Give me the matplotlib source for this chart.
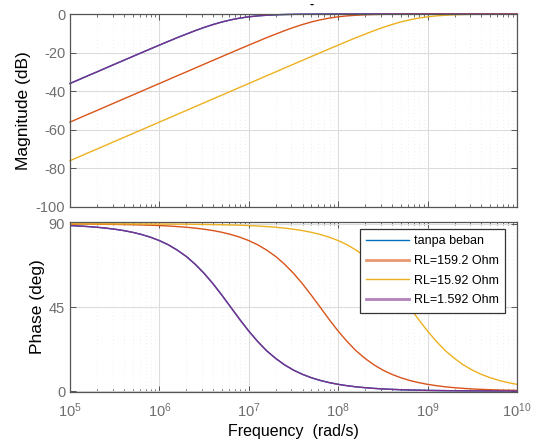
import matplotlib
matplotlib.use("Agg")
import matplotlib.pyplot as plt
from matplotlib.lines import Line2D
from matplotlib.ticker import LogLocator, NullFormatter, FixedLocator

plt.rcParams['font.family'] = ['Liberation Sans', 'DejaVu Sans']
plt.rcParams['axes.unicode_minus'] = False

# frequency points (rad/s), 10 per decade
freq = [1.00e5, 1.26e5, 1.58e5, 2.00e5, 2.51e5, 3.16e5, 3.98e5, 5.01e5, 6.31e5, 7.94e5,
        1.00e6, 1.26e6, 1.58e6, 2.00e6, 2.51e6, 3.16e6, 3.98e6, 5.01e6, 6.31e6, 7.94e6,
        1.00e7, 1.26e7, 1.58e7, 2.00e7, 2.51e7, 3.16e7, 3.98e7, 5.01e7, 6.31e7, 7.94e7,
        1.00e8, 1.26e8, 1.58e8, 2.00e8, 2.51e8, 3.16e8, 3.98e8, 5.01e8, 6.31e8, 7.94e8,
        1.00e9, 1.26e9, 1.58e9, 2.00e9, 2.51e9, 3.16e9, 3.98e9, 5.01e9, 6.31e9, 7.94e9,
        1.00e10]

labels = ['tanpa beban', 'RL=159.2 Ohm', 'RL=15.92 Ohm', 'RL=1.592 Ohm']
colors = ['#0072BD', '#D95319', '#EDB120', '#7E2F8E']

# magnitude (dB)
mag_tanpa = [-36.00, -34.00, -32.00, -30.00, -28.01, -26.01, -24.02, -22.03, -20.04, -18.07,
             -16.11, -14.17, -12.27, -10.41, -8.64, -6.97, -5.46, -4.12, -3.01, -2.12,
             -1.46, -0.97, -0.64, -0.41, -0.27, -0.17, -0.11, -0.07, -0.04, -0.03,
             -0.02, -0.01, -0.01, 0.00, 0.00, 0.00, 0.00, 0.00, 0.00, 0.00,
             0.00, 0.00, 0.00, 0.00, 0.00, 0.00, 0.00, 0.00, 0.00, 0.00, 0.00]
mag_159 = [-56.00, -54.00, -52.00, -50.00, -48.00, -46.00, -44.00, -42.00, -40.00, -38.00,
           -36.00, -34.00, -32.00, -30.00, -28.01, -26.01, -24.02, -22.03, -20.04, -18.07,
           -16.11, -14.17, -12.27, -10.41, -8.64, -6.97, -5.46, -4.12, -3.01, -2.12,
           -1.46, -0.97, -0.64, -0.41, -0.27, -0.17, -0.11, -0.07, -0.04, -0.03,
           -0.02, -0.01, -0.01, 0.00, 0.00, 0.00, 0.00, 0.00, 0.00, 0.00, 0.00]
mag_1592 = [-76.00, -74.00, -72.00, -70.00, -68.00, -66.00, -64.00, -62.00, -60.00, -58.00,
            -56.00, -54.00, -52.00, -50.00, -48.00, -46.00, -44.00, -42.00, -40.00, -38.00,
            -36.00, -34.00, -32.00, -30.00, -28.01, -26.01, -24.02, -22.03, -20.04, -18.07,
            -16.11, -14.17, -12.27, -10.41, -8.64, -6.97, -5.46, -4.12, -3.01, -2.12,
            -1.46, -0.97, -0.64, -0.41, -0.27, -0.17, -0.11, -0.07, -0.04, -0.03, -0.02]
mag_1p592 = list(mag_tanpa)  # overlaps tanpa beban

# phase (deg)
ph_tanpa = [89.09, 88.86, 88.56, 88.19, 87.72, 87.13, 86.39, 85.46, 84.29, 82.82,
            80.99, 78.72, 75.90, 72.45, 68.29, 63.38, 57.75, 51.54, 45.00, 38.46,
            32.25, 26.62, 21.71, 17.55, 14.10, 11.28, 9.01, 7.18, 5.71, 4.54,
            3.61, 2.87, 2.28, 1.81, 1.44, 1.14, 0.91, 0.72, 0.57, 0.46,
            0.36, 0.29, 0.23, 0.18, 0.14, 0.11, 0.09, 0.07, 0.06, 0.05, 0.04]
ph_159 = [89.91, 89.89, 89.86, 89.82, 89.77, 89.71, 89.64, 89.54, 89.43, 89.28,
          89.09, 88.86, 88.56, 88.19, 87.72, 87.13, 86.39, 85.46, 84.29, 82.82,
          80.99, 78.72, 75.90, 72.45, 68.29, 63.38, 57.75, 51.54, 45.00, 38.46,
          32.25, 26.62, 21.71, 17.55, 14.10, 11.28, 9.01, 7.18, 5.71, 4.54,
          3.61, 2.87, 2.28, 1.81, 1.44, 1.14, 0.91, 0.72, 0.57, 0.46, 0.36]
ph_1592 = [89.99, 89.99, 89.99, 89.98, 89.98, 89.97, 89.96, 89.95, 89.94, 89.93,
           89.91, 89.89, 89.86, 89.82, 89.77, 89.71, 89.64, 89.54, 89.43, 89.28,
           89.09, 88.86, 88.56, 88.19, 87.72, 87.13, 86.39, 85.46, 84.29, 82.82,
           80.99, 78.72, 75.90, 72.45, 68.29, 63.38, 57.75, 51.54, 45.00, 38.46,
           32.25, 26.62, 21.71, 17.55, 14.10, 11.28, 9.01, 7.18, 5.71, 4.54, 3.61]
ph_1p592 = list(ph_tanpa)

mags = [mag_tanpa, mag_159, mag_1592, mag_1p592]
phases = [ph_tanpa, ph_159, ph_1592, ph_1p592]

fig = plt.figure(figsize=(5.37, 4.46), dpi=100)
ax1 = fig.add_axes([0.1304, 0.5359, 0.8324, 0.4327])
ax2 = fig.add_axes([0.1304, 0.1211, 0.8324, 0.3811])

tick_gray = '#6e6e6e'
frame = '#555555'

for ax in (ax1, ax2):
    ax.set_xscale('log')
    ax.set_xlim(1e5, 1e10)
    ax.xaxis.set_major_locator(LogLocator(base=10, numticks=20))
    ax.xaxis.set_minor_locator(LogLocator(base=10, subs=range(2, 10), numticks=20))
    ax.xaxis.set_minor_formatter(NullFormatter())
    ax.grid(True, which='major', color='#dcdcdc', linewidth=0.8)
    ax.grid(True, which='minor', axis='x', color='#e0e0e0', linewidth=0.5, linestyle=(0, (1, 4)))
    ax.set_axisbelow(True)
    ax.tick_params(which='both', direction='in', top=True, right=True, colors=frame,
                   labelcolor=tick_gray, labelsize=10.5)
    ax.tick_params(which='major', length=4, width=0.7)
    ax.tick_params(which='minor', length=2, width=0.6)
    for s in ax.spines.values():
        s.set_color(frame)
        s.set_linewidth(0.9)

for m, c in zip(mags, colors):
    ax1.plot(freq, m, color=c, linewidth=1.0, clip_on=False)
ax1.set_ylim(-100, 0)
ax1.yaxis.set_major_locator(FixedLocator([-100, -80, -60, -40, -20, 0]))
ax1.tick_params(axis='x', labelbottom=False)
ax1.set_ylabel('Magnitude (dB)', fontsize=12.5, labelpad=3)

for p, c in zip(phases, colors):
    ax2.plot(freq, p, color=c, linewidth=1.0)
ax2.set_ylim(-0.5, 91)
ax2.yaxis.set_major_locator(FixedLocator([0, 45, 90]))
ax2.tick_params(axis='x', pad=7)
ax2.set_ylabel('Phase (deg)', fontsize=12.5, labelpad=3)
ax2.set_xlabel('Frequency  (rad/s)', fontsize=11.5, labelpad=3)

handles = [Line2D([], [], color=colors[0], linewidth=1.0),
           Line2D([], [], color=colors[1], linewidth=2.0, alpha=0.6),
           Line2D([], [], color=colors[2], linewidth=1.0),
           Line2D([], [], color=colors[3], linewidth=2.0, alpha=0.6)]
leg = ax2.legend(handles, labels, loc='upper right', bbox_to_anchor=(0.973, 0.959),
                 borderaxespad=0, fontsize=9, fancybox=False, framealpha=1,
                 edgecolor='#333333', handlelength=3.4, handletextpad=0.4,
                 labelspacing=0.62, borderpad=0.5)
leg.get_frame().set_linewidth(0.9)

fig.text(0.58, 0.99, '-', fontsize=9, fontweight='bold', ha='center', va='center')

fig.savefig('out.png', dpi=100)
